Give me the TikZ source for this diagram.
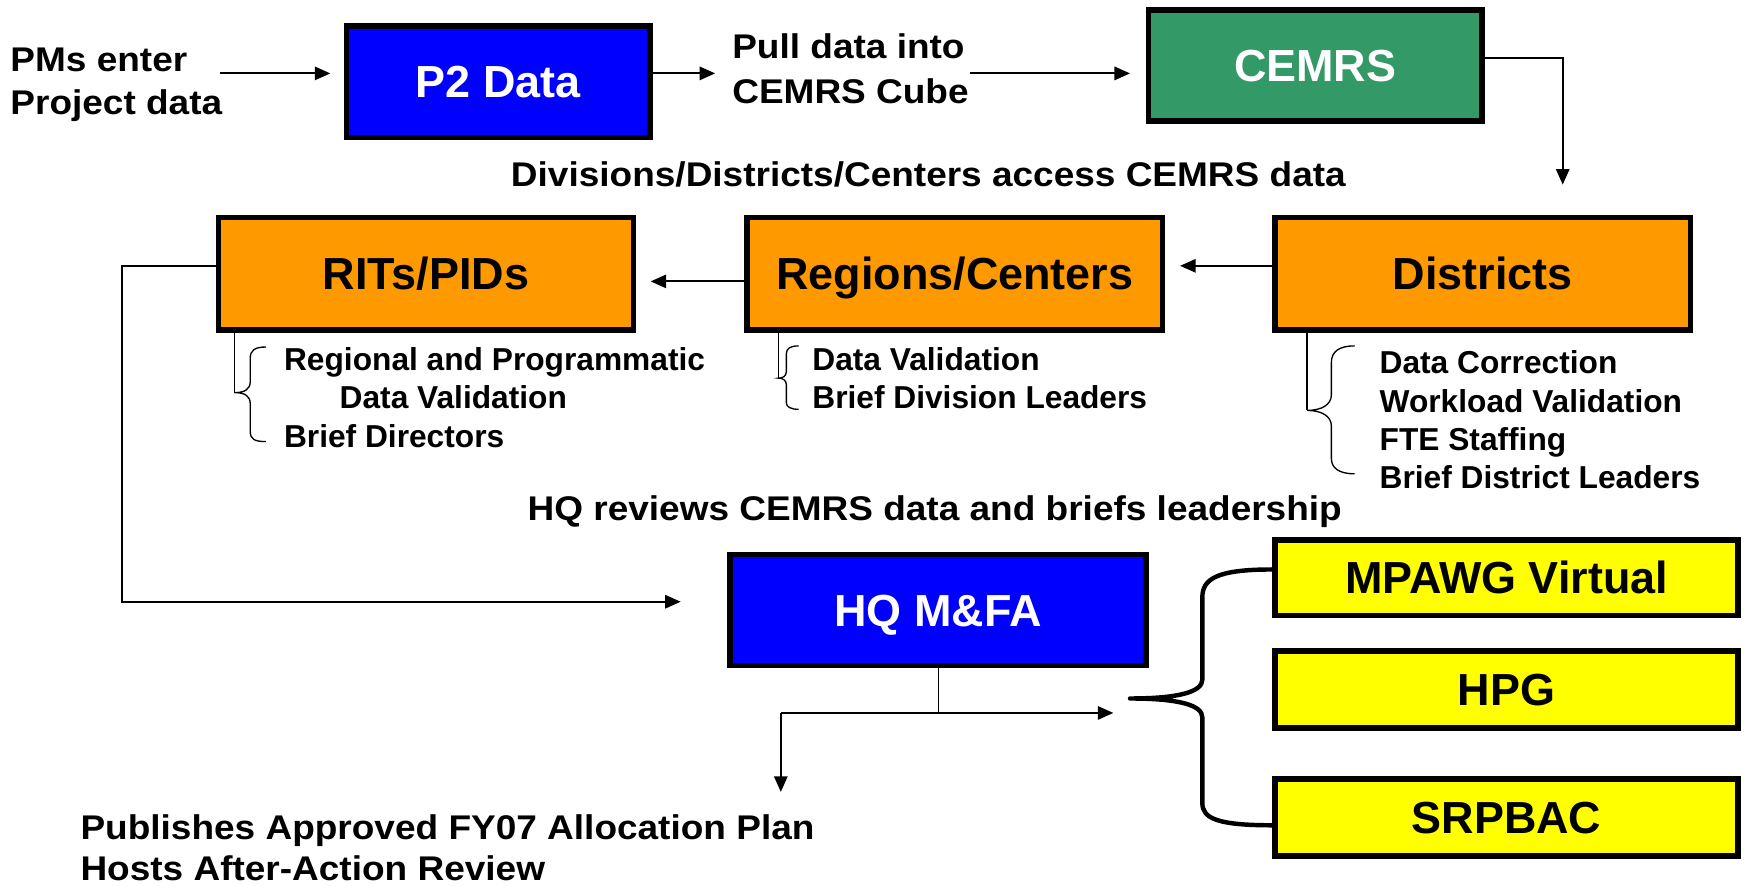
\documentclass[tikz,border=0pt]{standalone}
\usepackage{fontspec}
\setmainfont{Liberation Sans}
\newfontfamily\widefont[FakeStretch=1.08]{Liberation Sans}
\usetikzlibrary{arrows.meta}
\definecolor{p2blue}{RGB}{0,0,255}
\definecolor{cgreen}{RGB}{51,153,102}
\definecolor{orng}{RGB}{255,153,0}
\definecolor{yel}{RGB}{255,255,0}
\begin{document}
\begin{tikzpicture}[x=0.5pt,y=-0.5pt,
  box/.style={draw=black, line width=2.5pt, inner sep=0pt, font=\fontsize{20.2}{24}\selectfont\bfseries, text height=14.4pt, text depth=0pt},
  wbox/.style={box, minimum width=186.75pt, minimum height=50.5pt, fill=orng},
  ybox/.style={box, minimum width=208pt, minimum height=34.5pt, fill=yel},
  plain/.style={anchor=base west, inner sep=0pt, font=\widefont\fontsize{15.4}{18}\selectfont\bfseries},
  small/.style={anchor=base west, inner sep=0pt, font=\fontsize{14.25}{17}\selectfont\bfseries},
  conn/.style={line width=0.9pt},
  arr/.style={conn, -{Triangle[length=7pt,width=6pt]}},
  brace/.style={line width=0.6pt},
  bigbrace/.style={line width=2pt, line cap=round, line join=round}
]
\useasboundingbox (0,0) rectangle (1568,796);

% boxes
\node[box, fill=p2blue, text=white, minimum width=136.5pt, minimum height=50pt] (p2) at (448,73.5) {P2 Data};
\node[box, fill=cgreen, text=white, minimum width=150pt, minimum height=50pt] (cemrs) at (1182.5,59) {CEMRS};
\node[wbox] (rits) at (383,246) {RITs/PIDs};
\node[wbox] (regions) at (858.5,246) {Regions/Centers};
\node[wbox] (districts) at (1333,246) {Districts};
\node[box, fill=p2blue, text=white, minimum width=187.2pt, minimum height=50pt] (hq) at (843.3,548.5) {HQ M\&FA};
\node[ybox, minimum height=34pt] (mpawg) at (1354.5,519.5) {MPAWG Virtual};
\node[ybox] (hpg) at (1354.5,620) {HPG};
\node[ybox] (srpbac) at (1354.5,735) {SRPBAC};

% plain texts
\node[plain] (pms1) at (9,64.5) {PMs enter};
\node[plain] (pms2) at (9,103) {Project data};
\node[plain] (pull1) at (658,52.5) {Pull data into};
\node[plain] (pull2) at (658,93) {CEMRS Cube};
\node[plain] (div) at (459,167.4) {Divisions/Districts/Centers access CEMRS data};
\node[plain] (hqrev) at (474,468) {HQ reviews CEMRS data and briefs leadership};
\node[plain] (pub1) at (72,754.5) {Publishes Approved FY07 Allocation Plan};
\node[plain] (pub2) at (72,792) {Hosts After-Action Review};

% brace texts
\node[small] (rt1) at (255,333) {Regional and Programmatic};
\node[small] (rt2) at (305,367) {Data Validation};
\node[small] (rt3) at (255,402) {Brief Directors};
\node[small] (rg1) at (730,333) {Data Validation};
\node[small] (rg2) at (730,367) {Brief Division Leaders};
\node[small] (ds1) at (1240,336) {Data Correction};
\node[small] (ds2) at (1240,371) {Workload Validation};
\node[small] (ds3) at (1240,405) {FTE Staffing};
\node[small] (ds4) at (1240,439) {Brief District Leaders};

% connectors
\coordinate (a1s) at (198,66);
\coordinate (a1e) at (297,66);
\draw[arr] (a1s) -- (a1e);
\coordinate (a2e) at (643,66);
\draw[arr] (p2.east |- a2e) -- (a2e);
\coordinate (a3s) at (872,66);
\coordinate (a3e) at (1016,66);
\draw[arr] (a3s) -- (a3e);
\coordinate (a4m) at (1405,52);
\coordinate (a4e) at (1405,166);
\draw[arr] (cemrs.east |- a4m) -- (a4m) -- (a4e);
\coordinate (a5e) at (1061,239);
\draw[arr] (districts.west |- a5e) -- (a5e);
\coordinate (a6e) at (585,253);
\draw[arr] (regions.west |- a6e) -- (a6e);
\coordinate (a7a) at (110,239);
\coordinate (a7e) at (612,541);
\draw[arr] (rits.west |- a7a) -- (a7a) |- (a7e);
\coordinate (j1) at (844,641);
\coordinate (j2) at (702,641);
\coordinate (a8e) at (1001,641);
\coordinate (a9e) at (702,712);
\draw[line width=0.6pt] (hq.south -| j1) -- (j1);
\draw[arr] (j2) -- (a8e);
\draw[arr] (j2) -- (a9e);

% small braces
\coordinate (b1) at (211,353);
\draw[brace] (rits.south -| b1) -- (b1);
\draw[brace] (239,312) .. controls (229,312) and (225,315) .. (225,322) -- (225,343) .. controls (225,350) and (220,353) .. (b1) .. controls (220,353) and (225,356) .. (225,363) -- (225,388) .. controls (225,395) and (229,397) .. (239,397);
\coordinate (b2) at (700,340);
\draw[brace] (regions.south -| b2) -- (b2);
\draw[brace] (718,311) .. controls (711,311) and (707,313) .. (707,318) -- (707,334) .. controls (707,338) and (704,340) .. (b2) .. controls (704,340) and (707,342) .. (707,346) -- (707,362) .. controls (707,366) and (711,368) .. (718,368);
\coordinate (b3) at (1175,369);
\draw[brace] (districts.south -| b3) -- (b3);
\draw[brace] (1218,311) .. controls (1204,311) and (1197,316) .. (1197,326) -- (1197,355) .. controls (1197,364) and (1188,369) .. (b3) .. controls (1188,369) and (1197,374) .. (1197,383) -- (1197,412) .. controls (1197,421) and (1204,426) .. (1218,426);

% big brace
\coordinate (bt) at (1016,628);
\coordinate (btop) at (1144,512);
\coordinate (bbot) at (1144,742);
\draw[bigbrace] (btop) .. controls (1095,512) and (1081,520) .. (1081,537) -- (1081,611) .. controls (1081,622) and (1060,628) .. (bt) .. controls (1060,628) and (1081,634) .. (1081,645) -- (1081,722) .. controls (1081,736) and (1095,742) .. (bbot);
\end{tikzpicture}
\end{document}
